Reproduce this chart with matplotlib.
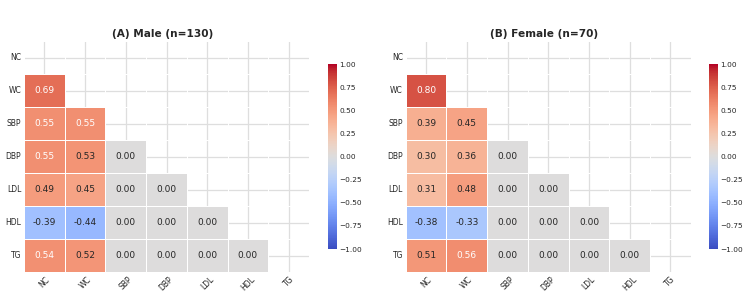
import numpy as np
import matplotlib
matplotlib.use("Agg")
import matplotlib.pyplot as plt
import seaborn as sns

labels = ["NC", "WC", "SBP", "DBP", "LDL", "HDL", "TG"]

# lower-triangle correlations, row by row (row i has i values)
male_rows = [
    [],
    [0.69],
    [0.55, 0.55],
    [0.55, 0.53, 0.00],
    [0.49, 0.45, 0.00, 0.00],
    [-0.39, -0.44, 0.00, 0.00, 0.00],
    [0.54, 0.52, 0.00, 0.00, 0.00, 0.00],
]
female_rows = [
    [],
    [0.80],
    [0.39, 0.45],
    [0.30, 0.36, 0.00],
    [0.31, 0.48, 0.00, 0.00],
    [-0.38, -0.33, 0.00, 0.00, 0.00],
    [0.51, 0.56, 0.00, 0.00, 0.00, 0.00],
]
titles = ["(A) Male (n=130)", "(B) Female (n=70)"]
cbar_ticks = [-1.0, -0.75, -0.5, -0.25, 0.0, 0.25, 0.5, 0.75, 1.0]


def to_matrix(rows):
    n = len(labels)
    m = np.eye(n)
    for i, r in enumerate(rows):
        for j, v in enumerate(r):
            m[i, j] = v
            m[j, i] = v
    return m


sns.set_theme(style="whitegrid")
plt.rcParams['font.family'] = ['DejaVu Sans']
plt.rcParams['grid.color'] = '#dedede'
plt.rcParams['grid.linewidth'] = 0.9

fig = plt.figure(figsize=(7.5, 2.98), dpi=100)
hm_pos = [[0.032, 0.087, 0.38, 0.775], [0.541, 0.087, 0.38, 0.775]]
cb_pos = [[0.437, 0.164, 0.012, 0.621], [0.945, 0.164, 0.012, 0.621]]

for k, rows in enumerate([male_rows, female_rows]):
    corr = to_matrix(rows)
    mask = np.triu(np.ones_like(corr, dtype=bool))
    ax = fig.add_axes(hm_pos[k])
    cax = fig.add_axes(cb_pos[k])
    sns.heatmap(corr, mask=mask, cmap="coolwarm", vmin=-1, vmax=1, center=0,
                annot=True, fmt=".2f", annot_kws={"size": 6.5},
                linewidths=0.5, linecolor="white",
                xticklabels=labels, yticklabels=labels,
                ax=ax, cbar_ax=cax, cbar_kws={"ticks": cbar_ticks})
    ax.set_axisbelow(True)
    ax.grid(True)
    # text colour like the original rendering
    for t in ax.texts:
        v = float(t.get_text())
        t.set_color("white" if v > 0.535 else "#262626")
    ax.set_title(titles[k], fontsize=7.6, fontweight="bold", pad=3, x=0.485)
    ax.tick_params(axis="x", labelsize=5.5, rotation=45, length=0, pad=2)
    ax.tick_params(axis="y", labelsize=5.5, rotation=0, length=0, pad=2)
    cax.tick_params(labelsize=5.3, length=0, pad=2)

fig.savefig("out.png", dpi=100)
